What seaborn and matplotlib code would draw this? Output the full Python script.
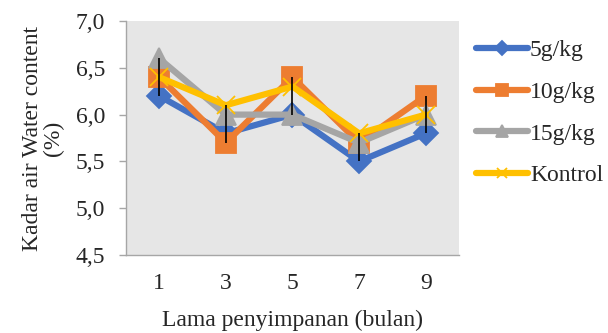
import numpy as np
import pandas as pd
import matplotlib
matplotlib.use("Agg")
import matplotlib.pyplot as plt
import seaborn as sns

# Storage time (months) and water content (%) per treatment
months = [1, 3, 5, 7, 9]
series_names = ["5g/kg", "10g/kg", "15g/kg", "Kontrol"]
v_5g = [6.2, 5.8, 6.0, 5.5, 5.8]
v_10g = [6.4, 5.7, 6.4, 5.7, 6.2]
v_15g = [6.6, 6.0, 6.0, 5.7, 6.0]
v_kontrol = [6.4, 6.1, 6.3, 5.8, 6.0]
y_ticks = [4.5, 5.0, 5.5, 6.0, 6.5, 7.0]
y_tick_labels = ["4,5", "5,0", "5,5", "6,0", "6,5", "7,0"]

values = [v_5g, v_10g, v_15g, v_kontrol]
df = pd.DataFrame({
    "bulan": months * len(series_names),
    "kadar": np.concatenate(values),
    "perlakuan": np.repeat(series_names, len(months)),
})

colors = {"5g/kg": "#4472C4", "10g/kg": "#ED7D31", "15g/kg": "#A5A5A5", "Kontrol": "#FFC000"}
markers = {"5g/kg": "D", "10g/kg": "s", "15g/kg": "^", "Kontrol": "x"}
msizes = {"5g/kg": 12, "10g/kg": 14, "15g/kg": 14, "Kontrol": 13}

FS = 17

sns.set_theme(style="white")
plt.rcParams["font.family"] = ["Liberation Serif", "DejaVu Serif"]

fig = plt.figure(figsize=(6.08, 3.33), dpi=100)
ax = fig.add_axes([0.207, 0.234, 0.548, 0.703])
ax.set_facecolor("#E6E6E6")

for name in series_names:
    sub = df[df["perlakuan"] == name]
    sns.lineplot(
        data=sub, x="bulan", y="kadar", color=colors[name],
        marker=markers[name], markersize=msizes[name],
        markeredgewidth=1.3, markeredgecolor=colors[name],
        markerfacecolor=colors[name], linewidth=4.5,
        label=name, ax=ax,
    )

# High-low bars across the treatments at each storage time
arr = np.array(values)
ax.vlines(months, arr.min(axis=0), arr.max(axis=0), color="black", lw=1.2, zorder=6)

ax.set_xlim(0, 10)
ax.set_ylim(4.5, 7.0)
ax.set_xticks(months)
ax.set_xticklabels([str(m) for m in months])
ax.set_yticks(y_ticks)
ax.set_yticklabels(y_tick_labels)
ax.tick_params(axis="y", which="major", length=5, width=1, color="#A6A6A6",
               direction="out", left=True, labelsize=FS, pad=10)
ax.tick_params(axis="x", length=0, labelsize=FS, pad=13)
for s in ["top", "right"]:
    ax.spines[s].set_visible(False)
for s in ["left", "bottom"]:
    ax.spines[s].set_color("#A6A6A6")
    ax.spines[s].set_linewidth(1)

ax.set_xlabel("Lama penyimpanan (bulan)", fontsize=FS, labelpad=11)
ax.set_ylabel("Kadar air Water content\n(%)", fontsize=FS, labelpad=8, linespacing=1.0)

handles, labels = ax.get_legend_handles_labels()
leg = ax.legend(
    handles, labels, loc="upper left", bbox_to_anchor=(1.0, 0.99),
    frameon=False, fontsize=FS, handlelength=2.2, handletextpad=0.1,
    labelspacing=0.85, markerscale=0.6, borderaxespad=0.3,
)
for h in leg.legend_handles:
    h.set_linewidth(4.5)

fig.savefig("out.png", dpi=100)
